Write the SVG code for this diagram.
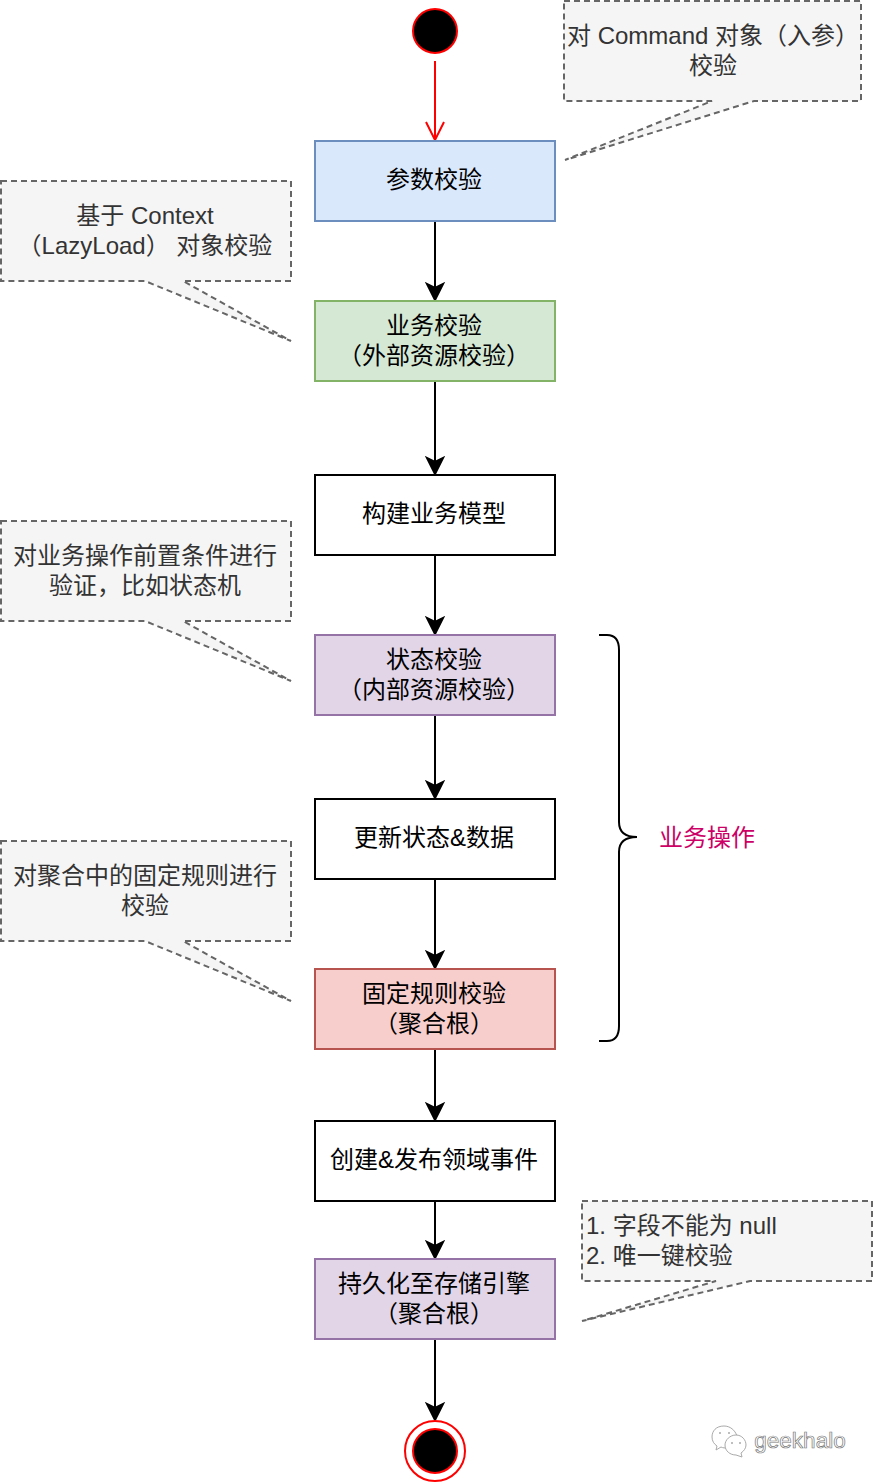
<svg xmlns="http://www.w3.org/2000/svg" width="874" height="1482" viewBox="0 0 874 1482">
<style>
text{font-family:"Liberation Sans","Noto Sans CJK SC",sans-serif;font-size:24px;text-anchor:middle;fill:#000}
.n{stroke-width:2}
.c{fill:#f5f5f5;stroke:#666;stroke-width:2;stroke-dasharray:6 4}
.ct{fill:#333}
.l{fill:none;stroke:#000;stroke-width:2}
.bl{fill:#dae8fc;stroke:#6c8ebf}
.gr{fill:#d5e8d4;stroke:#82b366}
.wh{fill:#fff;stroke:#000}
.pu{fill:#e1d5e7;stroke:#9673a6}
.re{fill:#f8cecc;stroke:#b85450}
.w{fill:#fff;stroke:#aaa;stroke-width:1}
</style>
<defs>
<marker id="a" markerUnits="userSpaceOnUse" markerWidth="20" markerHeight="22" refX="18" refY="11" orient="auto"><path d="M2 3L18 11L2 19L6 11Z" fill="#000" stroke="#000" stroke-width="2"/></marker>
<marker id="o" markerUnits="userSpaceOnUse" markerWidth="22" markerHeight="22" refX="20" refY="11" orient="auto"><path d="M2 2L20 11L2 20" fill="none" stroke="#f00" stroke-width="2"/></marker>
</defs>
<g id="connectors">
<path d="M435 61V140" fill="none" stroke="#f00" stroke-width="2" marker-end="url(#o)"/>
<path class="l" d="M435 221V300" marker-end="url(#a)"/>
<path class="l" d="M435 381V474" marker-end="url(#a)"/>
<path class="l" d="M435 555V634" marker-end="url(#a)"/>
<path class="l" d="M435 715V798" marker-end="url(#a)"/>
<path class="l" d="M435 879V968" marker-end="url(#a)"/>
<path class="l" d="M435 1049V1120" marker-end="url(#a)"/>
<path class="l" d="M435 1201V1258" marker-end="url(#a)"/>
<path class="l" d="M435 1339V1420" marker-end="url(#a)"/>
</g>
<g id="start"><circle cx="435" cy="31" r="22" fill="#000" stroke="#f00" stroke-width="2"/></g>
<g id="end"><circle cx="435" cy="1451" r="30" fill="#fff" stroke="#f00" stroke-width="2"/><circle cx="435" cy="1451" r="22" fill="#000" stroke="#f00" stroke-width="2"/></g>
<g id="n1"><rect class="n bl" x="315" y="141" width="240" height="80"/><text x="434" y="188">参数校验</text></g>
<g id="n2"><rect class="n gr" x="315" y="301" width="240" height="80"/><text x="434" y="334">业务校验</text><text x="434" y="364">（外部资源校验）</text></g>
<g id="n3"><rect class="n wh" x="315" y="475" width="240" height="80"/><text x="434" y="522">构建业务模型</text></g>
<g id="n4"><rect class="n pu" x="315" y="635" width="240" height="80"/><text x="434" y="668">状态校验</text><text x="434" y="698">（内部资源校验）</text></g>
<g id="n5"><rect class="n wh" x="315" y="799" width="240" height="80"/><text x="434" y="846">更新状态&amp;数据</text></g>
<g id="n6"><rect class="n re" x="315" y="969" width="240" height="80"/><text x="434" y="1002">固定规则校验</text><text x="434" y="1032">（聚合根）</text></g>
<g id="n7"><rect class="n wh" x="315" y="1121" width="240" height="80"/><text x="434" y="1168">创建&amp;发布领域事件</text></g>
<g id="n8"><rect class="n pu" x="315" y="1259" width="240" height="80"/><text x="434" y="1292">持久化至存储引擎</text><text x="434" y="1322">（聚合根）</text></g>
<g id="c1"><path class="c" d="M564 1H861V101H754L565 160L712 101H564Z"/><text class="ct" x="713" y="44">对 Command 对象（入参）</text><text class="ct" x="713" y="74">校验</text></g>
<g id="c2"><path class="c" d="M1 181H291V281H183L291 341L145 281H1Z"/><text class="ct" x="145" y="224">基于 Context</text><text class="ct" x="145" y="254">（LazyLoad） 对象校验</text></g>
<g id="c3"><path class="c" d="M1 521H291V621H183L291 681L145 621H1Z"/><text class="ct" x="145" y="564">对业务操作前置条件进行</text><text class="ct" x="145" y="594">验证，比如状态机</text></g>
<g id="c4"><path class="c" d="M1 841H291V941H183L291 1001L145 941H1Z"/><text class="ct" x="145" y="884">对聚合中的固定规则进行</text><text class="ct" x="145" y="914">校验</text></g>
<g id="c5"><path class="c" d="M582 1201H872V1281H750L582 1321L716 1281H582Z"/><text class="ct" x="586" y="1234" style="text-anchor:start">1. 字段不能为 null</text><text class="ct" x="586" y="1264" style="text-anchor:start">2. 唯一键校验</text></g>
<g id="brace"><path class="l" d="M599 635H607Q619 635 619 650V822Q619 837 637 837Q619 837 619 852V1026Q619 1041 607 1041H599"/></g>
<g id="label"><text x="707" y="846" style="fill:#cc0066">业务操作</text></g>
<g id="watermark"><path class="w" d="M724 1426C716 1426 712 1431 712 1437C712 1441 714 1444 717 1446L716 1450L721 1447C723 1448 725 1448 727 1448L737 1436C735 1430 730 1426 724 1426Z"/><path class="w" d="M736 1435C730 1435 725 1440 725 1445C725 1451 730 1455 736 1455L742 1457L741 1453C744 1451 746 1448 746 1445C746 1440 742 1435 736 1435Z"/><circle cx="720" cy="1433" r="1" fill="#aaa"/><circle cx="729" cy="1433" r="1" fill="#aaa"/><circle cx="732" cy="1443" r="1" fill="#aaa"/><circle cx="740" cy="1443" r="1" fill="#aaa"/><text x="800" y="1448" style="font-size:22.500px;fill:#fff;stroke:#777;stroke-width:.7">geekhalo</text></g>
</svg>
